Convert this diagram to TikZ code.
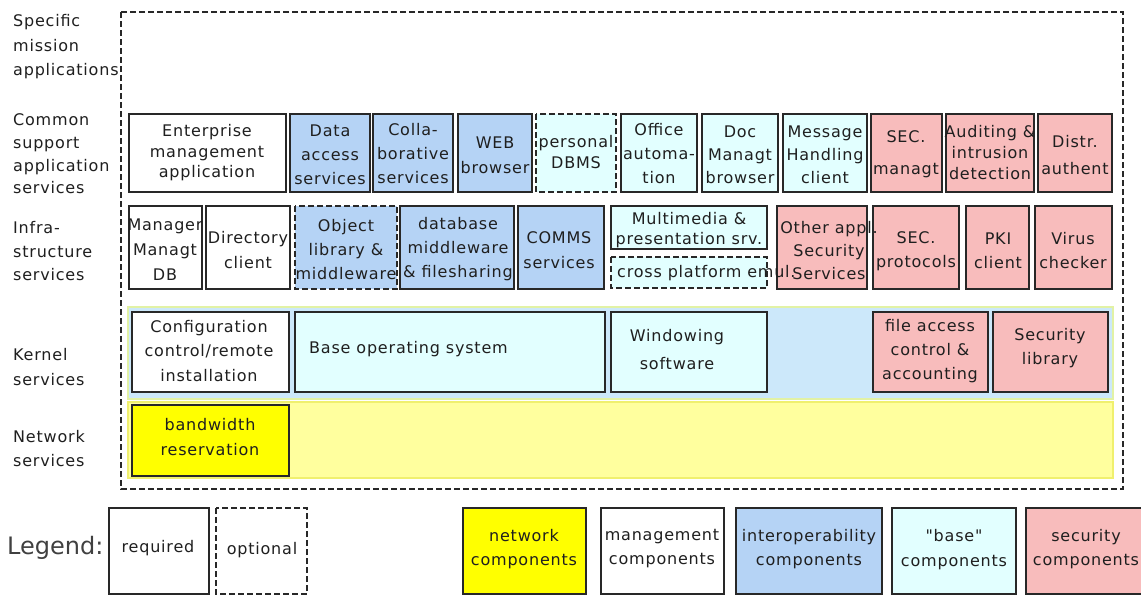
\documentclass[tikz,border=0pt]{standalone}
\usepackage{fontspec}
\setmainfont{DejaVu Sans}[LetterSpace=5]
\newfontfamily\plainq{DejaVu Sans}[LetterSpace=5,Ligatures=TeXOff]
\newfontfamily\legfont{DejaVu Sans}
\usetikzlibrary{calc}

\definecolor{interop}{RGB}{181,211,245}
\definecolor{basecol}{RGB}{226,255,255}
\definecolor{seccol}{RGB}{248,188,188}
\definecolor{netcol}{RGB}{255,255,0}
\definecolor{netband}{RGB}{255,255,158}
\definecolor{netedge}{RGB}{240,240,110}
\definecolor{kernband}{RGB}{204,232,250}
\definecolor{kernedge}{RGB}{226,242,165}
\definecolor{edgecol}{RGB}{40,40,40}

\newcommand\lh[1]{\fontsize{16}{#1}\selectfont}

\begin{document}
\begin{tikzpicture}[x=1pt,y=-1pt,
  comp/.style={draw=edgecol,line width=1.3pt},
  optcomp/.style={comp,dash pattern=on 6pt off 3pt},
  mgmtfill/.style={fill=white},
  iopfill/.style={fill=interop},
  basefill/.style={fill=basecol},
  secfill/.style={fill=seccol},
  netfill/.style={fill=netcol},
  txt/.style={font=\lh{21},align=center,inner sep=0pt,text=black!88},
  lbl/.style={txt,align=left,anchor=west},
]
\useasboundingbox (0,0) rectangle (1141,595);
\clip (0,0) rectangle (1141,595);
\fill[white] (0,0) rectangle (1141,595);

% ---- overall (optional) frame ----
\draw[edgecol,line width=1.2pt,dash pattern=on 6pt off 3pt] (121,12) rectangle (1123,489);

% ---- boxes: common support application services ----
\draw[comp,mgmtfill] (129,114) rectangle (286,192);
\draw[comp,iopfill]  (290,114) rectangle (370,192);
\draw[comp,iopfill]  (373,114) rectangle (453,192);
\draw[comp,iopfill]  (458,114) rectangle (532,192);
\draw[optcomp,basefill] (536,114) rectangle (616,192);
\draw[comp,basefill] (621,114) rectangle (697,192);
\draw[comp,basefill] (702,114) rectangle (778,192);
\draw[comp,basefill] (783,114) rectangle (867,192);
\draw[comp,secfill]  (871,114) rectangle (942,192);
\draw[comp,secfill]  (946,114) rectangle (1034,192);
\draw[comp,secfill]  (1038,114) rectangle (1112,192);

% ---- boxes: infrastructure services ----
\draw[comp,mgmtfill] (129,206) rectangle (202,289);
\draw[comp,mgmtfill] (206,206) rectangle (290,289);
\draw[optcomp,iopfill] (295,206) rectangle (397,289);
\draw[comp,iopfill]  (400,206) rectangle (514,289);
\draw[comp,iopfill]  (518,206) rectangle (604,289);
\draw[comp,basefill] (611,206) rectangle (767,249);
\draw[optcomp,basefill] (611,257) rectangle (767,288);
\draw[comp,secfill]  (777,206) rectangle (867,289);
\draw[comp,secfill]  (873,206) rectangle (959,289);
\draw[comp,secfill]  (966,206) rectangle (1029,289);
\draw[comp,secfill]  (1035,206) rectangle (1112,289);

% ---- boxes: kernel services ----
\draw[fill=kernband,draw=kernedge,line width=2.5pt] (128,307) rectangle (1113,399);
\draw[comp,mgmtfill] (132,312) rectangle (289,392);
\draw[comp,basefill] (295,312) rectangle (605,392);
\draw[comp,basefill] (611,312) rectangle (767,392);
\draw[comp,secfill]  (873,312) rectangle (988,392);
\draw[comp,secfill]  (993,312) rectangle (1108,392);

% ---- boxes: network services ----
\draw[fill=netband,draw=netedge,line width=2pt] (128,402) rectangle (1113,478);
\draw[comp,netfill] (132,405) rectangle (289,476);

% ---- boxes: legend ----
\draw[comp,mgmtfill] (109,508) rectangle (209,594);
\draw[optcomp,mgmtfill] (216,508) rectangle (307,594);
\draw[comp,netfill]  (463,508) rectangle (586,594);
\draw[comp,mgmtfill] (601,508) rectangle (724,594);
\draw[comp,iopfill]  (736,508) rectangle (882,594);
\draw[comp,basefill] (892,508) rectangle (1016,594);
\draw[comp,secfill]  (1026,508) rectangle (1150,594);

% ---- layer labels on the left ----
\node[lbl,font=\lh{24.5}] (spec)   at (13,47)    {Specific\\mission\\applications};
\node[lbl,font=\lh{22.7}] (common) at (13,154)   {Common\\support\\application\\services};
\node[lbl,font=\lh{23.5}] (infra)  at (13,251.5) {Infra-\\structure\\services};
\node[lbl,font=\lh{25}]   (kernel) at (13,367.5) {Kernel\\services};
\node[lbl,font=\lh{24}]   (netw)   at (13,449)   {Network\\services};

% ---- texts: common support application services ----
\node[txt,font=\lh{20.5}] (ent) at (207,153) {Enterprise\\management\\application};
\node[txt,font=\lh{24}] (data)  at (330,155) {Data\\access\\services};
\node[txt,font=\lh{24}] (colla) at (413,154) {Colla-\\borative\\services};
\node[txt,font=\lh{25}] (web)   at (495,155) {WEB\\browser};
\node[txt,font=\lh{21}] (pdbms) at (576,152) {personal\\DBMS};
\node[txt,font=\lh{24}] (office) at (659,154) {Office\\automa-\\tion};
\node[txt,font=\lh{23}] (doc)   at (740,155) {Doc\\Managt\\browser};
\node[txt,font=\lh{23}] (msg)   at (825,155) {Message\\Handling\\client};
\node[txt,font=\lh{32}] (secm)  at (906,154) {SEC.\\managt};
\node[txt,font=\lh{21}] (audit) at (990,153) {Auditing \&\\intrusion\\detection};
\node[txt,font=\lh{27}] (distr) at (1075,155) {Distr.\\authent};

% ---- texts: infrastructure services ----
\node[txt,font=\lh{25}] (mgr)   at (165,250) {Manager\\Managt\\DB};
\node[txt,font=\lh{25}] (dir)   at (248,250) {Directory\\client};
\node[txt,font=\lh{24}] (obj)   at (346,250) {Object\\library \&\\middleware};
\node[txt,font=\lh{24}] (dbmw)  at (458,249) {database\\middleware\\\& filesharing};
\node[txt,font=\lh{25}] (comms) at (559,250) {COMMS\\services};
\node[txt,font=\lh{20}] (mm)    at (689,230) {Multimedia \&\\presentation srv.};
\node[txt,font=\lh{23}] (oth)   at (829,251) {Other appl.\\Security\\Services};
\node[txt,anchor=west]  (xpl)   at (617,273) {cross platform emul.};
\node[txt,font=\lh{24}] (secp)  at (916,251) {SEC.\\protocols};
\node[txt,font=\lh{24}] (pki)   at (998,251) {PKI\\client};
\node[txt,font=\lh{24}] (virus) at (1073,251) {Virus\\checker};

% ---- texts: kernel services ----
\node[txt,font=\lh{24.5}] (conf) at (209,351) {Configuration\\control/remote\\installation};
\node[txt,anchor=west] (os) at (309,349) {Base operating system};
\node[txt,font=\lh{28}] (win) at (677,350) {Windowing\\software};
\node[txt,font=\lh{24}] (fac) at (930,351) {file access\\control \&\\accounting};
\node[txt,font=\lh{24}] (seclib) at (1050,348) {Security\\library};

% ---- texts: network services ----
\node[txt,font=\lh{25}] (bw) at (210,437) {bandwidth\\reservation};

% ---- texts: legend ----
\node[lbl,font=\legfont\fontsize{24}{28}\selectfont,text=black!75] (leg) at (7,548) {Legend:};
\node[txt] (req) at (158,548) {required};
\node[txt] (opt) at (262,550) {optional};
\node[txt,font=\lh{24}] (lnet)  at (524,549) {network\\components};
\node[txt,font=\lh{24}] (lmgmt) at (662,549) {management\\components};
\node[txt,font=\lh{24}] (liop)  at (809,549) {interoperability\\components};
\node[txt,font=\lh{25}] (lbase) at (954,550) {{\plainq"base"}\\components};
\node[txt,font=\lh{24}] (lsec)  at (1086,549) {security\\components};
\end{tikzpicture}
\end{document}
